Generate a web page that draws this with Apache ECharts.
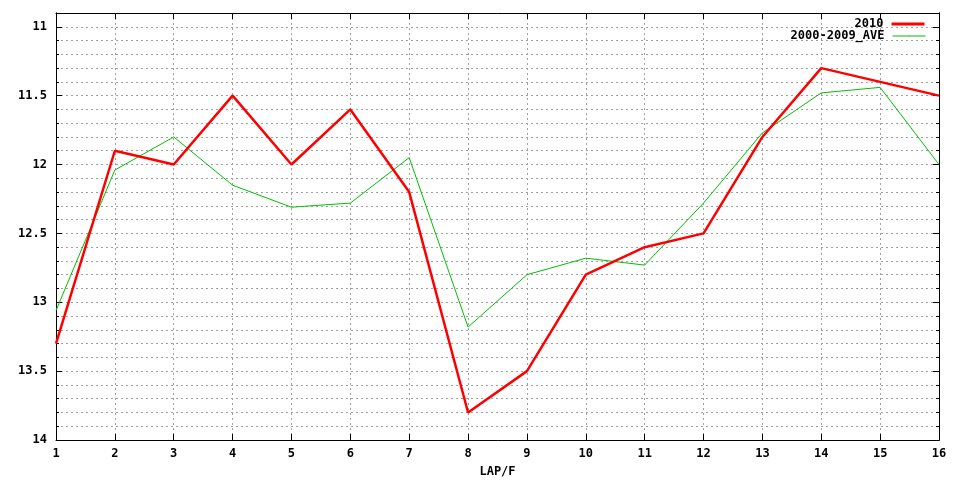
<!DOCTYPE html>
<html><head><meta charset="utf-8">
<script src="https://cdn.jsdelivr.net/npm/echarts@6/dist/echarts.min.js"></script>
<style>html,body{margin:0;padding:0;background:#fff}#c{width:960px;height:480px}</style>
</head><body><div id="c"></div>
<script>
const laps = ['1','2','3','4','5','6','7','8','9','10','11','12','13','14','15','16'];
const year2010 = [13.3, 11.9, 12.0, 11.5, 12.0, 11.6, 12.2, 13.8, 13.5, 12.8, 12.6, 12.5, 11.8, 11.3, 11.4, 11.5];
const ave2000_2009 = [13.06, 12.04, 11.8, 12.15, 12.31, 12.28, 11.95, 13.18, 12.8, 12.68, 12.73, 12.28, 11.77, 11.48, 11.44, 12.0];
const yMajorTicks = [11, 11.5, 12, 12.5, 13, 13.5, 14];
const seriesNames = ['2010', '2000-2009_AVE'];

const FONT = 'DejaVu Sans Mono';
const txt = {fontFamily: FONT, fontWeight: 'bold', fontSize: 12, color: '#000'};
const gridLine = {show: true, lineStyle: {color: '#a0a0a0', type: [2, 3], width: 1}};
const blackLine = {show: true, lineStyle: {color: '#000', width: 1}};

function yAx(pos, tickLen, major, labels, split) {
  return {
    type: 'value', position: pos, inverse: true, min: 10.9, max: 14, interval: 0.1,
    axisLine: blackLine,
    axisTick: Object.assign({show: true, inside: true, length: tickLen, lineStyle: {color: '#000'}}, major ? {customValues: yMajorTicks} : {}),
    axisLabel: labels ? Object.assign({show: true, margin: 9, customValues: yMajorTicks}, txt) : {show: false},
    splitLine: split ? gridLine : {show: false}
  };
}

const chart = echarts.init(document.getElementById('c'), null, {renderer: 'canvas'});
chart.setOption({
  animation: false,
  backgroundColor: '#fff',
  grid: {left: 56, right: 21, top: 13, bottom: 40, containLabel: false, outerBoundsMode: 'none'},
  xAxis: [{
    type: 'category', data: laps, boundaryGap: false, position: 'bottom',
    axisLine: blackLine,
    axisTick: {show: true, inside: true, length: 6, interval: 0, lineStyle: {color: '#000'}},
    axisLabel: Object.assign({show: true, margin: 8, interval: 0}, txt),
    splitLine: Object.assign({interval: 0}, gridLine),
    name: 'LAP/F', nameLocation: 'middle', nameGap: 26,
    nameTextStyle: txt
  }, {
    type: 'category', data: laps, boundaryGap: false, position: 'top',
    axisLine: blackLine,
    axisTick: {show: true, inside: true, length: 6, interval: 0, lineStyle: {color: '#000'}},
    axisLabel: {show: false}, splitLine: {show: false}
  }],
  yAxis: [
    yAx('left', 3, false, true, true),
    yAx('left', 6, true, false, false),
    yAx('right', 3, false, false, false),
    yAx('right', 6, true, false, false)
  ],
  legend: [
    {data: [seriesNames[0]], right: 34, top: 18, orient: 'vertical', align: 'right', itemWidth: 33, itemHeight: 2, padding: 0,
     lineStyle: {width: 3}, textStyle: Object.assign({padding: [0, 3, 0, 0]}, txt)},
    {data: [seriesNames[1]], right: 34, top: 30, orient: 'vertical', align: 'right', itemWidth: 33, itemHeight: 1, padding: 0,
     lineStyle: {width: 1}, textStyle: Object.assign({padding: [0, 3, 0, 0]}, txt)}
  ],
  series: [
    {name: seriesNames[0], type: 'line', data: year2010, symbol: 'none', xAxisIndex: 0, yAxisIndex: 0,
     itemStyle: {color: '#ff0000'}, lineStyle: {color: '#ff0000', width: 2.5}, z: 3},
    {name: seriesNames[1], type: 'line', data: ave2000_2009, symbol: 'none', xAxisIndex: 0, yAxisIndex: 0,
     itemStyle: {color: '#00c000'}, lineStyle: {color: '#00c000', width: 1}, z: 2}
  ]
});
</script>
</body></html>
